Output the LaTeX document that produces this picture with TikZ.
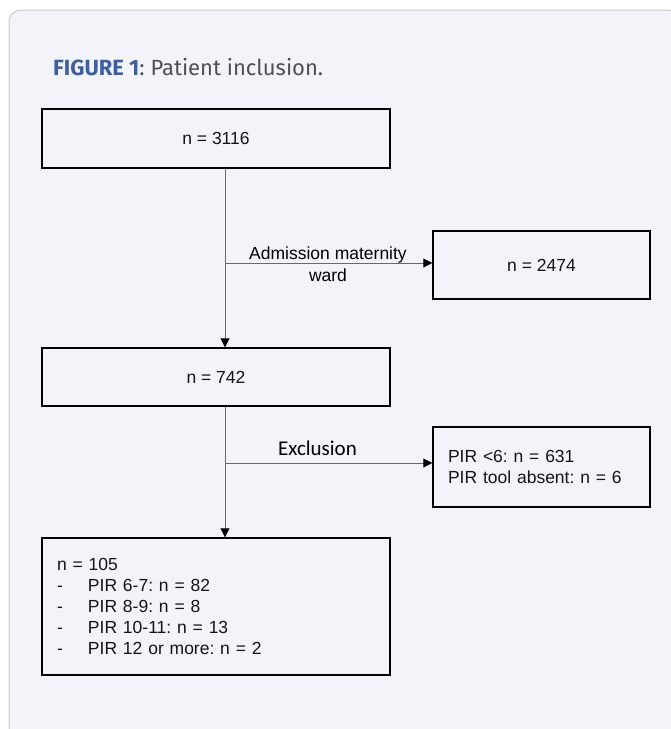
\documentclass[tikz,border=0pt]{standalone}
\usepackage{fontspec}
\setmainfont{Liberation Sans}
\newfontfamily\titlefont{Fira Sans}
\newfontfamily\exclfont{Carlito}
\usetikzlibrary{arrows.meta,calc}
\definecolor{cardbg}{HTML}{F3F4F9}
\definecolor{cardline}{HTML}{C9CACF}
\definecolor{figblue}{HTML}{3B5EA6}
\definecolor{captxt}{HTML}{4F4F55}
\definecolor{conn}{HTML}{6A6A6A}
\begin{document}
\frenchspacing
\begin{tikzpicture}[x=1pt,y=1pt,
  box/.style={draw=black, line width=1.4pt, fill=cardbg, inner sep=0pt, text=black!92, font=\fontsize{17.5}{21}\selectfont},
  conn/.style={draw=conn, line width=0.9pt},
  arr/.style={conn, -{Triangle[length=9pt,width=9pt,color=black,fill=black]}},
  lbl/.style={font=\fontsize{17.5}{22}\selectfont, align=center, inner sep=0pt}]
\useasboundingbox (0,0) rectangle (671,-729);
\fill[white] (0,0) rectangle (671,-729);
\begin{scope}
\clip (0,0) rectangle (671,-729);
\draw[cardline, fill=cardbg, line width=1pt, rounded corners=12pt] (9,-10) rectangle (680,-745);
\end{scope}
\node[anchor=base west, inner sep=0pt, font=\titlefont\fontsize{22}{26}\selectfont] (title) at (53,-75)
  {\textcolor{figblue}{\bfseries FIGURE 1}\textcolor{captxt}{: Patient inclusion.}};
\node[box, minimum width=348, minimum height=59] (b1) at (216,-138.5) {n = 3116};
\node[box, minimum width=217, minimum height=68] (b2) at (541.5,-265) {n = 2474};
\node[box, minimum width=348, minimum height=58] (b3) at (216,-377) {n = 742};
\node[box, minimum height=80, text width=187, inner xsep=15pt, align=left] (b4) at (541.5,-467)
  {PIR <6: n = 631\\PIR tool absent: n = 6};
\node[box, minimum height=137, text width=318, inner xsep=15pt, align=left, font=\fontsize{17.5}{20.8}\selectfont] (b5) at (216,-606.5)
  {n = 105\\
   \makebox[31pt][l]{-}PIR 6-7: n = 82\\
   \makebox[31pt][l]{-}PIR 8-9: n = 8\\
   \makebox[31pt][l]{-}PIR 10-11: n = 13\\
   \makebox[31pt][l]{-}PIR 12 or more: n = 2};
\coordinate (s1) at ([xshift=9pt]b1.south);
\coordinate (e1) at ([xshift=9pt]b3.north);
\coordinate (s2) at ([xshift=9pt]b3.south);
\coordinate (e2) at ([xshift=9pt]b5.north);
\coordinate (j1) at (225,-263);
\coordinate (j2) at (225,-463);
\draw[arr] (s1) -- (e1);
\draw[arr] (s2) -- (e2);
\draw[arr] (j1) -- (j1 -| b2.west);
\draw[arr] (j2) -- (j2 -| b4.west);
\node[lbl] (l1) at (328,-264) {Admission maternity\\ward};
\node[lbl, anchor=base, font=\exclfont\fontsize{21}{24}\selectfont] (l2) at (317.5,-455) {Exclusion};
\end{tikzpicture}
\end{document}
